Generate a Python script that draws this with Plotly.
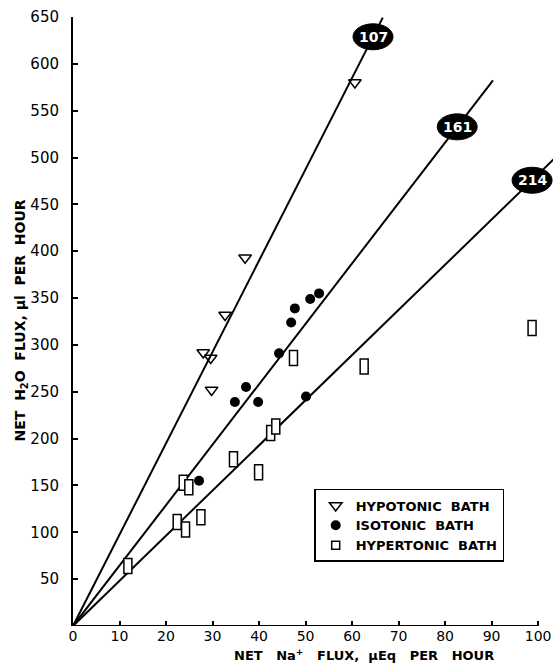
import plotly.graph_objects as go

# ---- data ----
hypo_x = [60.6, 37.0, 32.7, 28.0, 29.6, 29.8]
hypo_y = [580, 393, 332, 292, 286, 252]

iso_x = [47.7, 46.9, 51.0, 52.9, 44.3, 37.2, 34.8, 39.8, 50.1, 27.1]
iso_y = [339, 324, 349, 355, 291, 255, 239, 239, 245, 155]

hyper_x = [11.8, 22.4, 24.2, 27.5, 23.7, 24.9, 34.5, 39.9, 42.5, 43.6, 47.4, 62.6, 98.7]
hyper_y = [64, 111, 103, 116, 153, 148, 178, 164, 206, 213, 286, 277, 318]

line_labels = ["107", "161", "214"]
line_slopes = [9.75, 6.45, 4.82]
line_end_x = [66.6, 90.3, 104.0]
label_x = [64.5, 82.6, 98.7]

x_ticks = [0, 10, 20, 30, 40, 50, 60, 70, 80, 90, 100]
y_ticks = [50, 100, 150, 200, 250, 300, 350, 400, 450, 500, 550, 600, 650]

FONT = "DejaVu Sans"

fig = go.Figure()

# regression lines
for lab, s, xe in zip(line_labels, line_slopes, line_end_x):
    fig.add_trace(go.Scatter(x=[0, xe], y=[0, s * xe], mode="lines",
                             line=dict(color="black", width=2),
                             showlegend=False, hoverinfo="skip"))

fig.add_trace(go.Scatter(x=hypo_x, y=hypo_y, mode="markers", name="<b>HYPOTONIC  BATH</b>",
                         marker=dict(symbol="triangle-down-open", size=11, color="black",
                                     line=dict(width=1.5, color="black"))))
fig.add_trace(go.Scatter(x=iso_x, y=iso_y, mode="markers", name="<b>ISOTONIC  BATH</b>",
                         marker=dict(symbol="circle", size=10, color="black")))
# invisible anchor points for hypertonic (rectangles drawn as pixel-sized shapes at data coords)
fig.add_trace(go.Scatter(x=hyper_x, y=hyper_y, mode="markers",
                         marker=dict(size=1, color="rgba(0,0,0,0)"),
                         showlegend=False, hoverinfo="skip"))
fig.add_trace(go.Scatter(x=[None], y=[None], mode="markers", name="<b>HYPERTONIC  BATH</b>",
                         marker=dict(symbol="square-open", size=8, color="black",
                                     line=dict(width=1.5, color="black"))))

shapes = []
annotations = []
for hx, hy in zip(hyper_x, hyper_y):
    shapes.append(dict(type="rect", xref="x", yref="y", xsizemode="pixel", ysizemode="pixel",
                       xanchor=hx, yanchor=hy, x0=-4, x1=4, y0=-7.5, y1=7.5,
                       fillcolor="white", line=dict(color="black", width=1.5), layer="above"))

for lab, s, lx in zip(line_labels, line_slopes, label_x):
    ly = s * lx
    shapes.append(dict(type="circle", xref="x", yref="y", xsizemode="pixel", ysizemode="pixel",
                       xanchor=lx, yanchor=ly, x0=-20, x1=20, y0=-13, y1=13,
                       fillcolor="black", line=dict(color="black", width=1), layer="above"))
    annotations.append(dict(x=lx, y=ly, xref="x", yref="y", text="<b>" + lab + "</b>",
                            showarrow=False, font=dict(family=FONT, size=14, color="white")))

# x axis line to 100
shapes.append(dict(type="line", xref="x", yref="y", x0=0, x1=100, y0=0, y1=0,
                   line=dict(color="black", width=2), layer="above"))

annotations.append(dict(xref="paper", yref="paper", x=0.606, y=-0.0476, xanchor="center",
                        yanchor="middle", showarrow=False,
                        text="<b>NET&nbsp;&nbsp; Na<sup>+</sup>&nbsp;&nbsp; FLUX,&nbsp; \u03bcEq&nbsp;&nbsp; PER&nbsp;&nbsp; HOUR</b>",
                        font=dict(family=FONT, size=13, color="black")))
annotations.append(dict(xref="paper", yref="paper", x=-0.108, y=0.502, xanchor="center",
                        yanchor="middle", showarrow=False, textangle=-90,
                        text="<b>NET  H<sub>2</sub>O  FLUX, \u03bcl  PER  HOUR</b>",
                        font=dict(family=FONT, size=14, color="black")))

fig.update_layout(
    width=553, height=663,
    margin=dict(l=73, r=0, t=17, b=37),
    paper_bgcolor="white", plot_bgcolor="white",
    font=dict(family=FONT, color="black"),
    xaxis=dict(range=[0, 103.2], tickvals=x_ticks, ticktext=[str(v) for v in x_ticks],
               ticks="inside", ticklen=5, tickwidth=1.5, tickcolor="black",
               showline=False, showgrid=False, zeroline=False,
               tickfont=dict(family=FONT, size=14, color="black")),
    yaxis=dict(range=[0, 650], tickvals=y_ticks, ticktext=[str(v) for v in y_ticks],
               ticks="inside", ticklen=5, tickwidth=1.5, tickcolor="black",
               showline=True, linecolor="black", linewidth=2,
               showgrid=False, zeroline=False, ticklabelstandoff=9,
               tickfont=dict(family=FONT, size=15, color="black")),
    legend=dict(x=0.5025, y=0.225, xanchor="left", yanchor="top",
                bordercolor="black", borderwidth=1.5, bgcolor="white",
                font=dict(family=FONT, size=13, color="black"),
                itemwidth=30, tracegroupgap=0),
    shapes=shapes, annotations=annotations,
    showlegend=True,
)

# remove the browser's default 8px page margin so the figure fills the window exactly
fig.write_html("out.html",
               config={"displayModeBar": False},
               post_script="document.body.style.margin='0px';document.body.style.overflow='hidden';")
